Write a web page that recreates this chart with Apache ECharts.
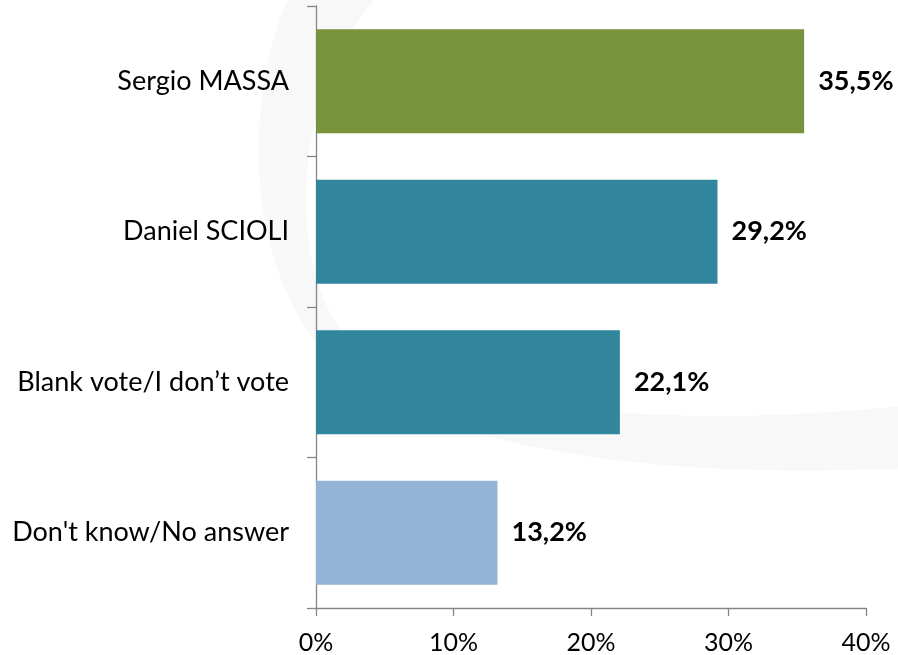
<!DOCTYPE html>
<html>
<head>
<meta charset="utf-8">
<script src="https://cdn.jsdelivr.net/npm/echarts@6/dist/echarts.min.js"></script>
<style>html,body{margin:0;padding:0;background:#fff}#c{width:898px;height:655px}</style>
</head>
<body>
<div id="c"></div>
<script>
var categories = ['Sergio MASSA', 'Daniel SCIOLI', 'Blank vote/I don\u2019t vote', "Don't know/No answer"];
var values = [35.5, 29.2, 22.1, 13.2];
var barColors = ['#77933C', '#31859C', '#31859C', '#95B3D7'];
var xTicks = [0, 10, 20, 30, 40];

// faint background crescent (decoration only)
function cubic(p0, p1, p2, p3, n) {
  var pts = [];
  for (var i = 0; i <= n; i++) {
    var t = i / n, u = 1 - t;
    pts.push([
      u*u*u*p0[0] + 3*u*u*t*p1[0] + 3*u*t*t*p2[0] + t*t*t*p3[0],
      u*u*u*p0[1] + 3*u*u*t*p1[1] + 3*u*t*t*p2[1] + t*t*t*p3[1]
    ]);
  }
  return pts;
}
var crescent = [].concat(
  cubic([292,-10],[248,80],[238,250],[322,350],40),
  cubic([322,350],[420,450],[650,480],[910,468],40),
  cubic([910,405],[700,428],[450,420],[342,330],40),
  cubic([342,330],[292,270],[284,100],[382,-10],40)
);

var FONT = 'Lato';
var chart = echarts.init(document.getElementById('c'), null, {renderer: 'canvas'});
chart.setOption({
  backgroundColor: '#ffffff',
  animation: false,
  graphic: [{
    type: 'polygon',
    z: -10,
    silent: true,
    shape: {points: crescent},
    style: {fill: '#f8f8f8'}
  }],
  grid: {left: 316, right: 32, top: 6, bottom: 46, containLabel: false},
  xAxis: {
    type: 'value',
    min: xTicks[0],
    max: xTicks[xTicks.length - 1],
    interval: 10,
    splitLine: {show: false},
    axisLine: {show: true, lineStyle: {color: '#868686', width: 1.3}},
    axisTick: {show: true, length: 8, lineStyle: {color: '#868686', width: 1.3}},
    axisLabel: {
      formatter: '{value}%', margin: 22,
      fontFamily: FONT, fontSize: 25, color: '#000'
    }
  },
  yAxis: {
    type: 'category',
    inverse: true,
    data: categories,
    axisLine: {show: true, lineStyle: {color: '#868686', width: 1.3}},
    axisTick: {show: true, length: 9, lineStyle: {color: '#868686', width: 1.3}},
    axisLabel: {margin: 27, fontFamily: FONT, fontSize: 27, color: '#000'}
  },
  series: [{
    type: 'bar',
    barWidth: 104,
    data: values.map(function (v, i) { return {value: v, itemStyle: {color: barColors[i]}}; }),
    label: {
      show: true,
      position: 'right',
      distance: 14,
      fontFamily: FONT,
      fontWeight: 'bold',
      fontSize: 27,
      color: '#000',
      formatter: function (p) { return p.value.toFixed(1).replace('.', ',') + '%'; }
    }
  }]
});
</script>
</body>
</html>
